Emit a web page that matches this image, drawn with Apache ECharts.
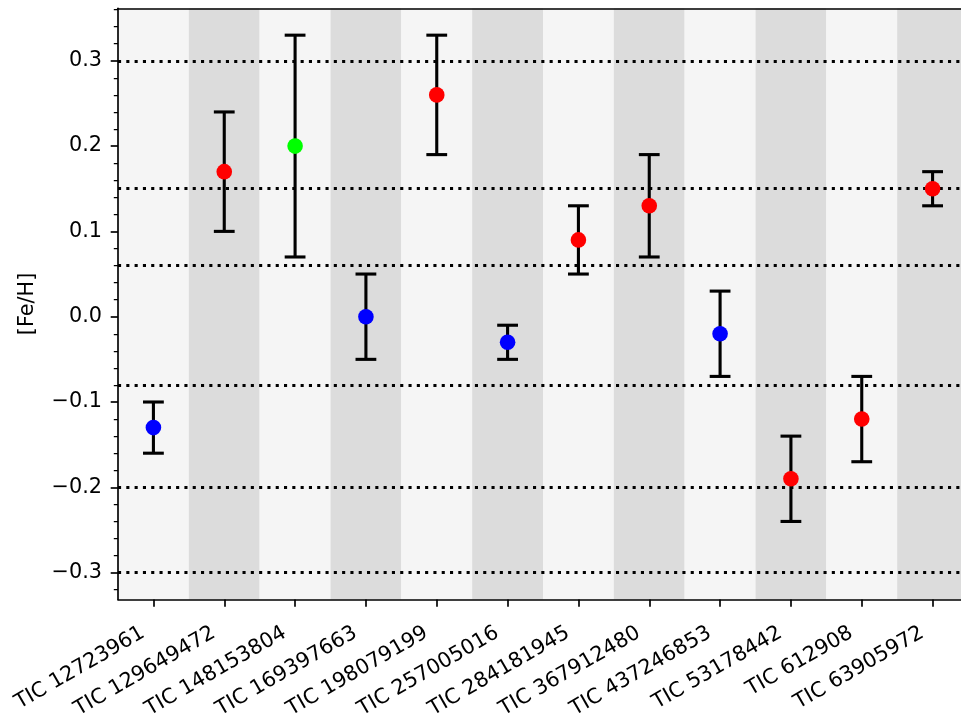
<!DOCTYPE html>
<html>
<head>
<meta charset="utf-8">
<script src="https://cdn.jsdelivr.net/npm/echarts@6/dist/echarts.min.js"></script>
<style>
  html, body { margin: 0; padding: 0; background: #ffffff; }
  #chart { width: 961px; height: 716px; }
</style>
</head>
<body>
<div id="chart"></div>
<script>
// Stars and their metallicity estimates
const targets = [
  'TIC 12723961', 'TIC 129649472', 'TIC 148153804', 'TIC 169397663',
  'TIC 198079199', 'TIC 257005016', 'TIC 284181945', 'TIC 367912480',
  'TIC 437246853', 'TIC 53178442', 'TIC 612908', 'TIC 63905972'
];
const feh    = [-0.13, 0.17, 0.20, 0.00, 0.26, -0.03, 0.09, 0.13, -0.02, -0.19, -0.12, 0.15];
const fehErr = [ 0.03, 0.07, 0.13, 0.05, 0.07,  0.02, 0.04, 0.06,  0.05,  0.05,  0.05, 0.02];
const markerColors = ['#0000ff', '#ff0000', '#00ff00', '#0000ff', '#ff0000', '#0000ff',
                      '#ff0000', '#ff0000', '#0000ff', '#ff0000', '#ff0000', '#ff0000'];

// Horizontal reference levels (dotted)
const refLevels = [0.3, 0.15, 0.06, -0.08, -0.2, -0.3];

// Y axis ticks and limits
const yTicks = [-0.3, -0.2, -0.1, 0.0, 0.1, 0.2, 0.3];
const yMin = -0.3315;
const yMax = 0.3615;

const FONT = 'DejaVu Sans';
const FS = 20.8;

const fmt = v => {
  const s = Math.abs(v).toFixed(1);
  return (v < -1e-9 ? '\u2212' : '') + s;
};

const errData = feh.map((v, i) => [i, v - fehErr[i], v + fehErr[i]]);
const pointData = feh.map((v, i) => ({ value: [i, v], itemStyle: { color: markerColors[i], opacity: 1 } }));

const chart = echarts.init(document.getElementById('chart'), null, { renderer: 'canvas' });

chart.setOption({
  animation: false,
  backgroundColor: '#ffffff',
  // plot box runs a little past the right edge of the canvas
  grid: { left: 118, width: 850, top: 8.3, bottom: 116.5, outerBoundsMode: 'none' },
  xAxis: [
    {
      type: 'category',
      data: targets,
      boundaryGap: true,
      position: 'bottom',
      axisLine: { show: true, onZero: false, lineStyle: { color: '#000', width: 1.67 } },
      axisTick: { show: true, alignWithLabel: true, length: 7.3, lineStyle: { color: '#000', width: 1.67 } },
      axisLabel: {
        rotate: 30, interval: 0, margin: 26, padding: [0, 12, 0, 0],
        color: '#000', fontFamily: FONT, fontSize: FS
      },
      splitLine: { show: false },
      splitArea: { show: true, areaStyle: { color: ['#f5f5f5', '#dcdcdc'] } }
    },
    {
      type: 'category',
      data: targets,
      position: 'top',
      axisLine: { show: true, onZero: false, lineStyle: { color: '#000', width: 1.67 } },
      axisTick: { show: false },
      axisLabel: { show: false },
      splitLine: { show: false }
    }
  ],
  yAxis: {
    type: 'value',
    min: yMin,
    max: yMax,
    splitNumber: 7,
    name: '[Fe/H]',
    nameLocation: 'middle',
    nameGap: 80,
    nameRotate: 90,
    nameTextStyle: { color: '#000', fontFamily: FONT, fontSize: FS },
    axisLine: { show: true, onZero: false, lineStyle: { color: '#000', width: 1.67 } },
    axisTick: { show: true, length: 7.3, customValues: yTicks, lineStyle: { color: '#000', width: 1.67 } },
    minorTick: { show: true, splitNumber: 5, length: 4.2, lineStyle: { color: '#000', width: 1.25 } },
    axisLabel: {
      customValues: yTicks,
      margin: 16,
      color: '#000', fontFamily: FONT, fontSize: FS,
      formatter: fmt
    },
    splitLine: { show: false },
    minorSplitLine: { show: false }
  },
  series: [
    {
      type: 'custom',
      name: 'err',
      xAxisIndex: 0,
      data: errData,
      encode: { x: 0, y: [1, 2] },
      z: 3,
      renderItem: function (params, api) {
        const idx = api.value(0);
        const lo = api.coord([idx, api.value(1)]);
        const hi = api.coord([idx, api.value(2)]);
        const half = 10.4;
        const style = { stroke: '#000', lineWidth: 3.1, fill: null };
        return {
          type: 'group',
          children: [
            { type: 'line', shape: { x1: lo[0], y1: lo[1], x2: hi[0], y2: hi[1] }, style: style },
            { type: 'line', shape: { x1: lo[0] - half, y1: lo[1], x2: lo[0] + half, y2: lo[1] }, style: style },
            { type: 'line', shape: { x1: hi[0] - half, y1: hi[1], x2: hi[0] + half, y2: hi[1] }, style: style }
          ]
        };
      },
      markLine: {
        silent: true,
        symbol: ['none', 'none'],
        label: { show: false },
        lineStyle: { color: '#000', width: 3.1, type: [3.1, 5.2], cap: 'butt' },
        data: refLevels.map(v => ({ yAxis: v }))
      }
    },
    {
      type: 'scatter',
      name: '[Fe/H]',
      xAxisIndex: 0,
      data: pointData,
      symbol: 'circle',
      symbolSize: 15.6,
      itemStyle: { opacity: 1 },
      z: 5
    }
  ]
});
</script>
</body>
</html>
